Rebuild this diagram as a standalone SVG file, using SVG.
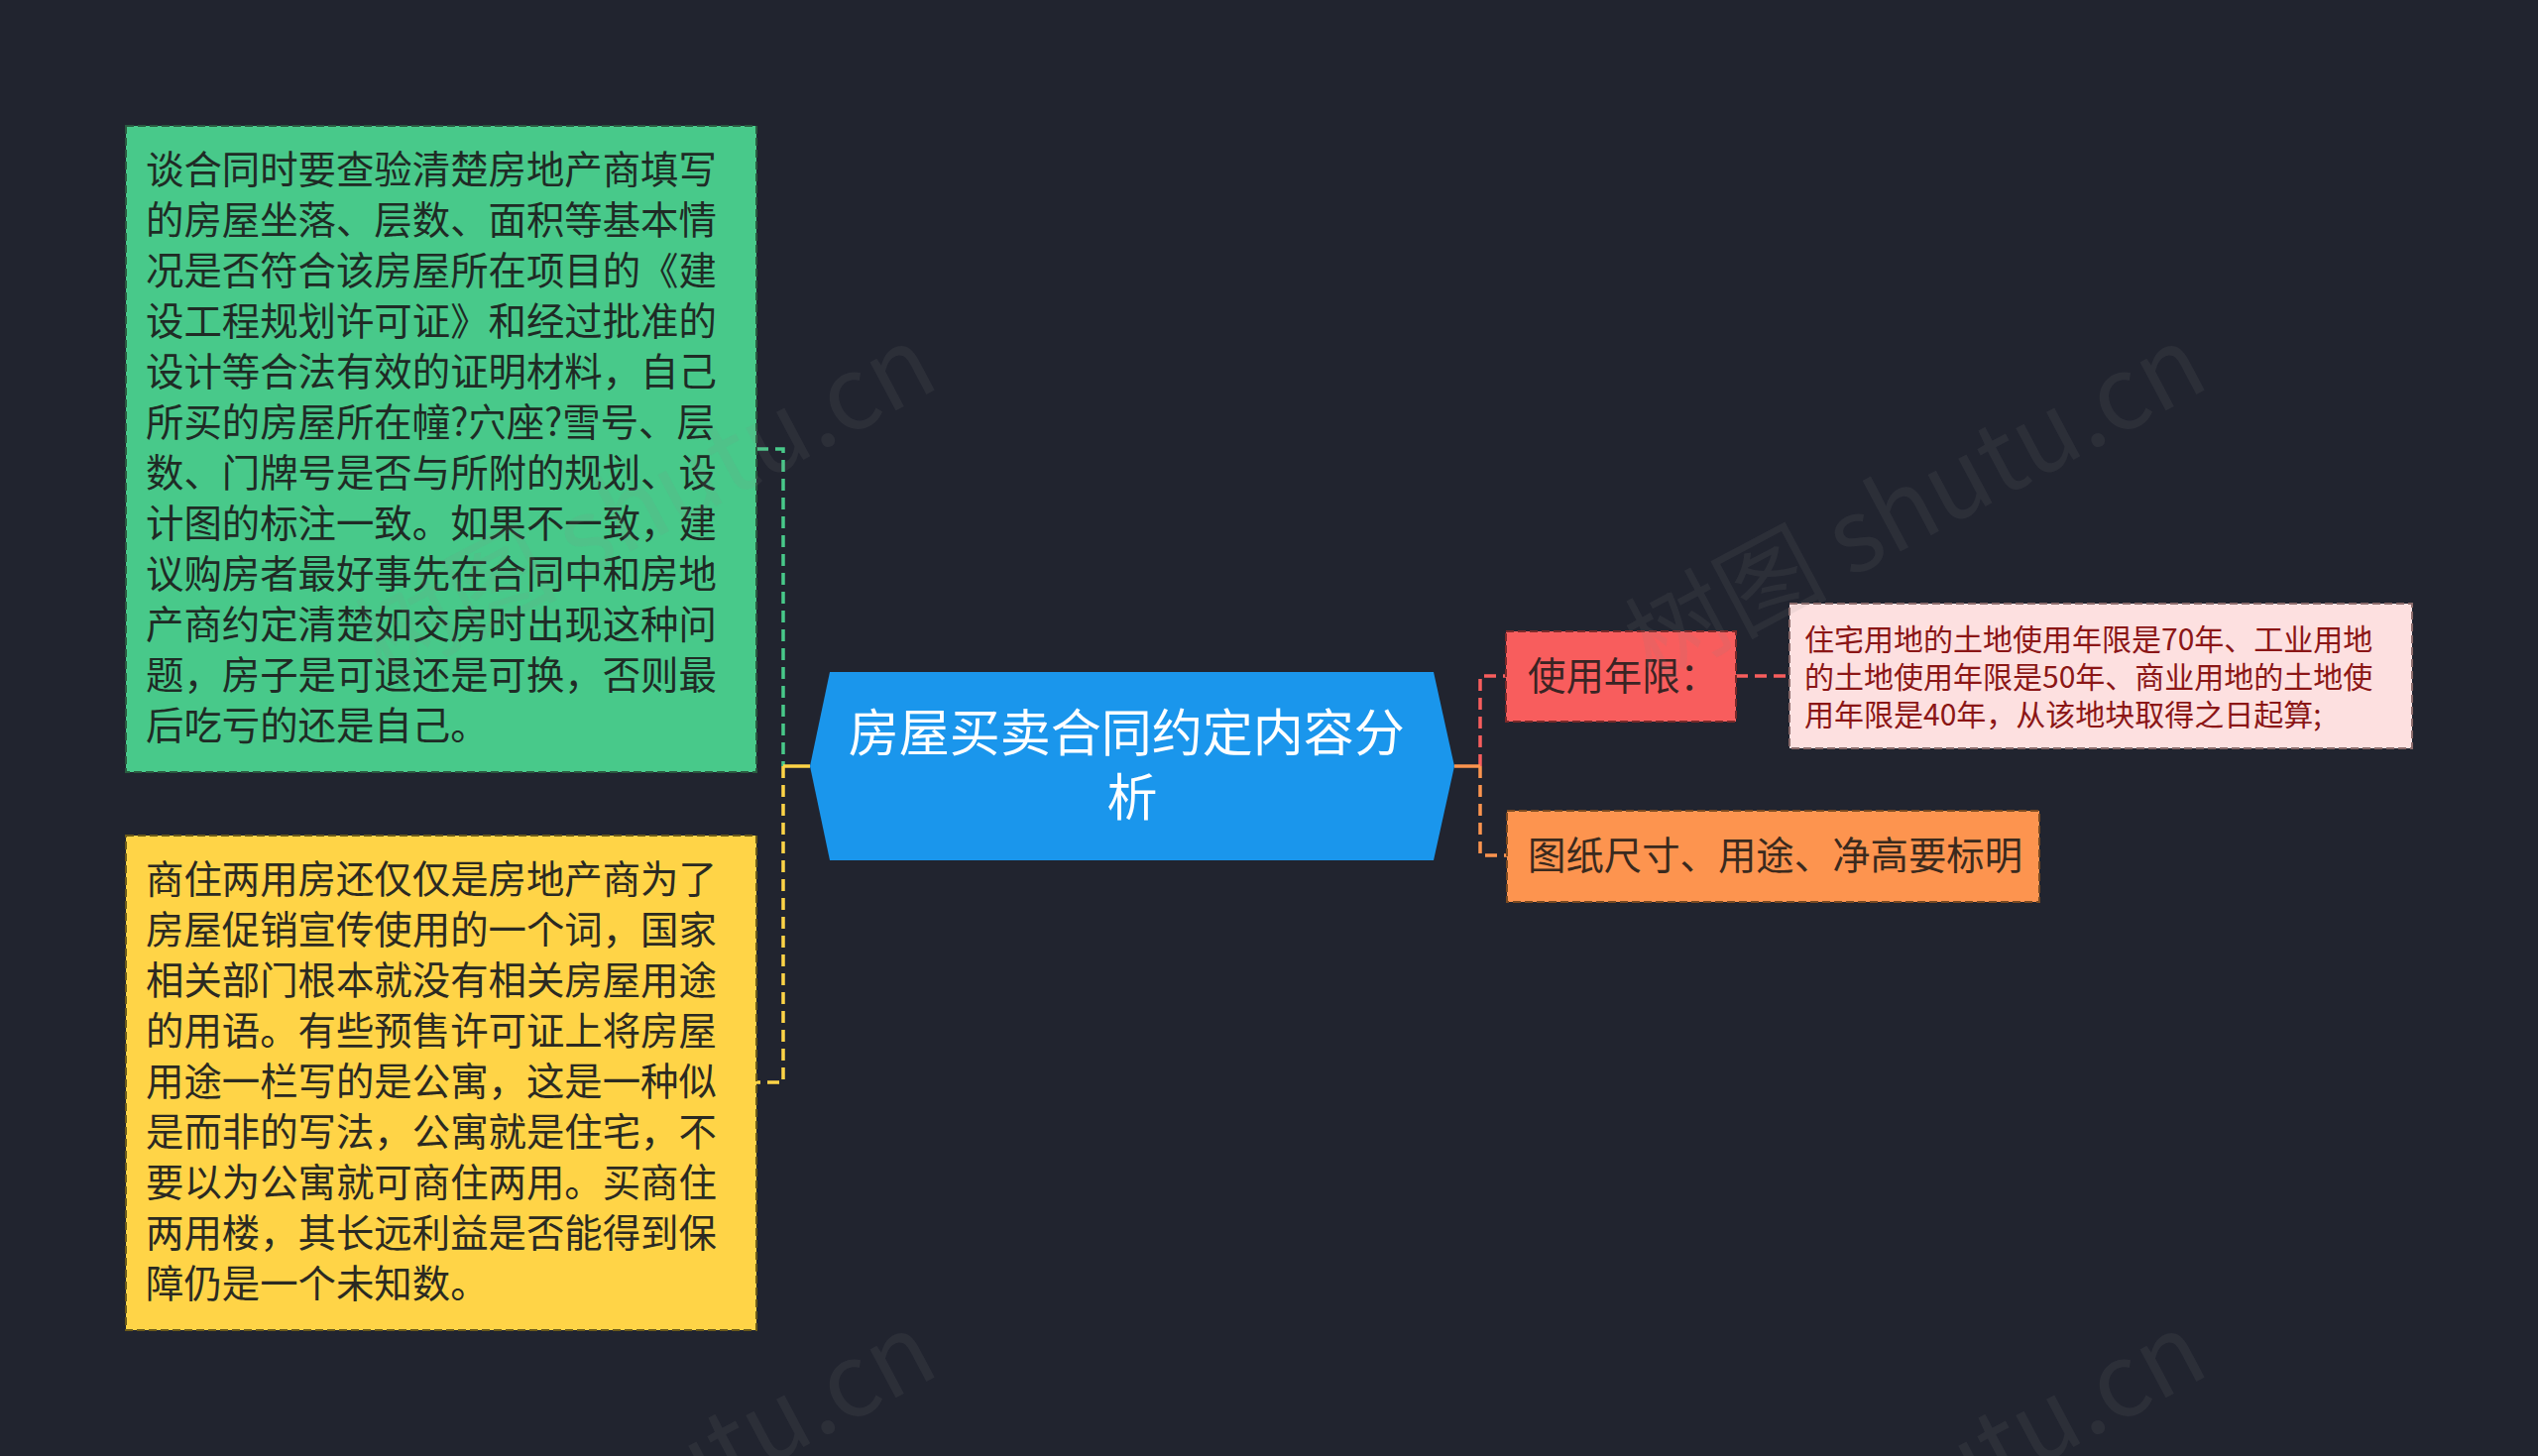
<svg xmlns="http://www.w3.org/2000/svg" width="2560" height="1469" viewBox="0 0 2560 1469">
<style>
.t{font-family:"Noto Sans CJK SC","Noto Sans",sans-serif}
.body{font-size:38.4px}
.conn{fill:none;stroke-width:3.5;stroke-dasharray:12 7}
.solid{fill:none;stroke-width:3.5}
.box{stroke-width:2;stroke-dasharray:8 4}
.wm{font-family:"Noto Sans CJK SC","Liberation Serif",serif;font-size:102px;fill:#8a8a8a;fill-opacity:0.11}
</style>
<rect width="2560" height="1469" fill="#21242f"/>
<g id="connectors">
<path class="conn" stroke="#48c98a" d="M763,453 H790 V773"/>
<path class="conn" stroke="#ffd447" d="M790,773 V1092 H763"/>
<path class="solid" stroke="#ffd447" d="M817,773 H790"/>
<path class="conn" stroke="#f85d5d" d="M1493,773 V682 H1519"/>
<path class="conn" stroke="#fd944f" d="M1493,773 V863 H1520"/>
<path class="solid" stroke="#fd944f" d="M1467,773 H1493"/>
<path class="conn" stroke="#f85d5d" d="M1751,682 H1805"/>
</g>
<g id="node-green">
<rect class="box" x="127" y="127" width="636" height="652" fill="#48c98a" stroke="#2a5a40"/>
<text class="t body" fill="#1f2b25">
<tspan x="147" y="185">谈合同时要查验清楚房地产商填写</tspan>
<tspan x="147" y="236">的房屋坐落、层数、面积等基本情</tspan>
<tspan x="147" y="287">况是否符合该房屋所在项目的《建</tspan>
<tspan x="147" y="338">设工程规划许可证》和经过批准的</tspan>
<tspan x="147" y="389">设计等合法有效的证明材料，自己</tspan>
<tspan x="147" y="440">所买的房屋所在幢?穴座?雪号、层</tspan>
<tspan x="147" y="491">数、门牌号是否与所附的规划、设</tspan>
<tspan x="147" y="542">计图的标注一致。如果不一致，建</tspan>
<tspan x="147" y="593">议购房者最好事先在合同中和房地</tspan>
<tspan x="147" y="644">产商约定清楚如交房时出现这种问</tspan>
<tspan x="147" y="695">题，房子是可退还是可换，否则最</tspan>
<tspan x="147" y="746">后吃亏的还是自己。</tspan>
</text>
</g>
<g id="node-yellow">
<rect class="box" x="127" y="843" width="636" height="499" fill="#ffd447" stroke="#6b5a1a"/>
<text class="t body" fill="#2b2a22">
<tspan x="147" y="901">商住两用房还仅仅是房地产商为了</tspan>
<tspan x="147" y="952">房屋促销宣传使用的一个词，国家</tspan>
<tspan x="147" y="1003">相关部门根本就没有相关房屋用途</tspan>
<tspan x="147" y="1054">的用语。有些预售许可证上将房屋</tspan>
<tspan x="147" y="1105">用途一栏写的是公寓，这是一种似</tspan>
<tspan x="147" y="1156">是而非的写法，公寓就是住宅，不</tspan>
<tspan x="147" y="1207">要以为公寓就可商住两用。买商住</tspan>
<tspan x="147" y="1258">两用楼，其长远利益是否能得到保</tspan>
<tspan x="147" y="1309">障仍是一个未知数。</tspan>
</text>
</g>
<g id="node-center">
<polygon points="817,773 837,678 1446,678 1467,773 1446,868 837,868" fill="#1a96ec"/>
<text class="t" fill="#ffffff" font-size="51" text-anchor="middle">
<tspan x="1142" y="758">房屋买卖合同约定内容分</tspan>
<tspan x="1142" y="823">析</tspan>
</text>
</g>
<g id="node-red">
<rect class="box" x="1519" y="637" width="232" height="91" fill="#f85d5d" stroke="#7a2a2a"/>
<text class="t body" fill="#3a2424" x="1541" y="696">使用年限：</text>
</g>
<g id="node-pink">
<rect class="box" x="1805" y="609" width="628" height="146" fill="#fde0e0" stroke="#8a6a6a"/>
<text class="t" fill="#8b1616" font-size="30">
<tspan x="1820" y="656">住宅用地的土地使用年限是70年、工业用地</tspan>
<tspan x="1820" y="694">的土地使用年限是50年、商业用地的土地使</tspan>
<tspan x="1820" y="732">用年限是40年，从该地块取得之日起算;</tspan>
</text>
</g>
<g id="node-orange">
<rect class="box" x="1520" y="818" width="537" height="92" fill="#fd944f" stroke="#7a4a22"/>
<text class="t body" fill="#3a2a1e" x="1541" y="877">图纸尺寸、用途、净高要标明</text>
</g>
<g id="watermarks">
<text class="wm" transform="translate(385,690) rotate(-28)">树图 shutu.cn</text>
<text class="wm" transform="translate(1666,690) rotate(-28)">树图 shutu.cn</text>
<text class="wm" transform="translate(385,1686) rotate(-28)">树图 shutu.cn</text>
<text class="wm" transform="translate(1666,1686) rotate(-28)">树图 shutu.cn</text>
</g>
</svg>
